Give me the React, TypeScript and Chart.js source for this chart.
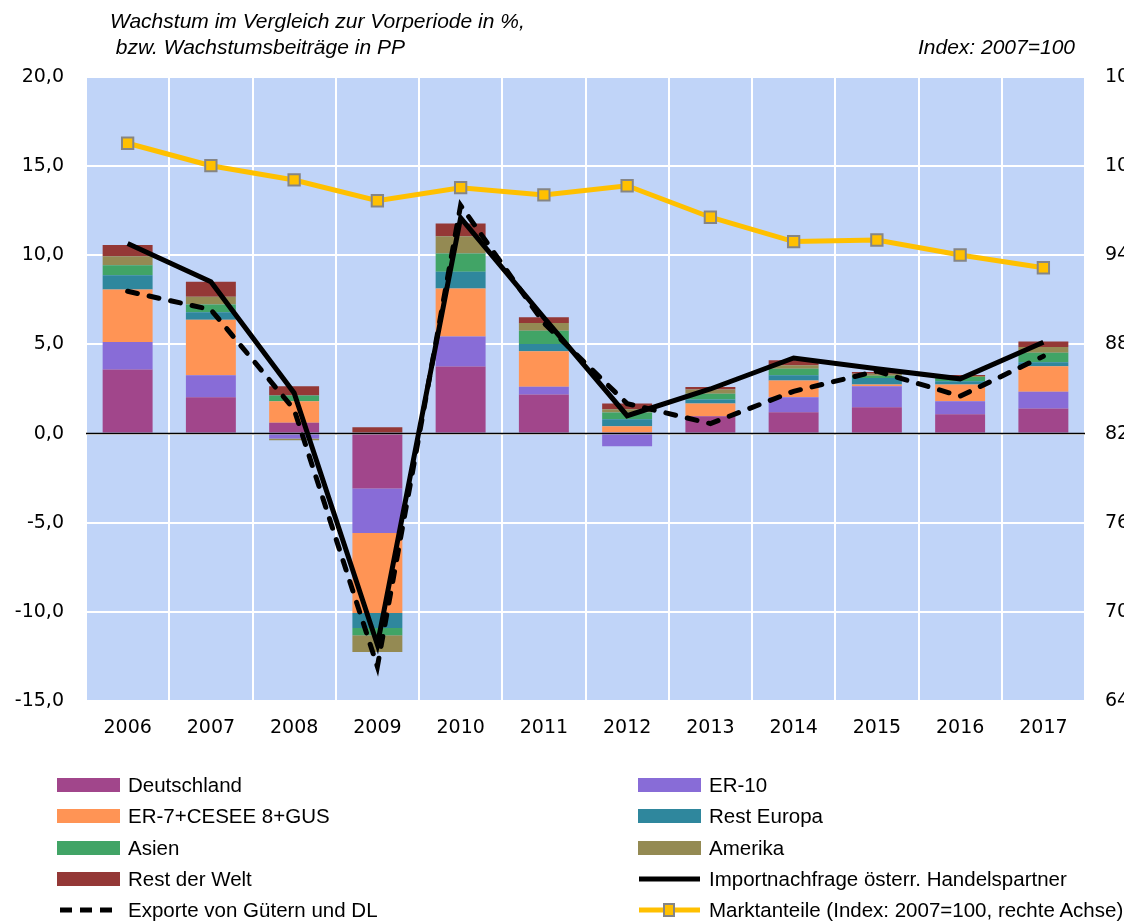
import React, { useEffect, useRef } from "react";
import { Chart, registerables } from "chart.js";
Chart.register(...registerables);

const years = ["2006", "2007", "2008", "2009", "2010", "2011", "2012", "2013", "2014", "2015", "2016", "2017"];

const deutschland = [3.59, 2.04, 0.6, -3.08, 3.76, 2.19, 0.08, 0.97, 1.2, 1.48, 1.08, 1.4];
const er10 = [1.55, 1.23, -0.28, -2.49, 1.68, 0.43, -0.71, 0, 0.84, 1.17, 0.73, 0.94];
const er7 = [2.94, 3.12, 1.21, -4.49, 2.7, 2.0, 0.33, 0.71, 0.93, 0.1, 0.94, 1.43];
const restEuropa = [0.8, 0.41, 0, -0.84, 0.93, 0.41, 0.39, 0.23, 0.3, 0.37, 0.18, 0.23];
const asien = [0.56, 0.44, 0.32, -0.41, 1.03, 0.74, 0.38, 0.33, 0.36, 0.13, 0.25, 0.53];
const amerika = [0.5, 0.43, -0.1, -0.94, 0.97, 0.43, 0.18, 0.23, 0.2, 0.1, 0.05, 0.33];
const restWelt = [0.64, 0.84, 0.52, 0.35, 0.71, 0.32, 0.32, 0.14, 0.28, 0.1, 0.05, 0.3];

const importnachfrage = [10.66, 8.51, 2.28, -11.84, 12.1, 6.5, 1.0, 2.5, 4.24, 3.64, 3.07, 5.12];
const exporte = [7.98, 6.95, 1.35, -13.07, 12.8, 6.2, 1.68, 0.56, 2.37, 3.5, 2.1, 4.34];
const marktanteile = [101.54, 100.03, 99.07, 97.67, 98.55, 98.06, 98.68, 96.56, 94.92, 95.03, 94.02, 93.16];

const leftMin = -15, leftMax = 20, leftStep = 5;
const rightMin = 64, rightMax = 106, rightStep = 6;

const barSeries = [
  { label: "Deutschland", data: deutschland, color: "#A1468B" },
  { label: "ER-10", data: er10, color: "#886CD7" },
  { label: "ER-7+CESEE 8+GUS", data: er7, color: "#FF9455" },
  { label: "Rest Europa", data: restEuropa, color: "#2F879D" },
  { label: "Asien", data: asien, color: "#41A466" },
  { label: "Amerika", data: amerika, color: "#948A53" },
  { label: "Rest der Welt", data: restWelt, color: "#943836" },
];

const lineImportLabel = "Importnachfrage österr. Handelspartner";
const lineExportLabel = "Exporte von Gütern und DL";
const lineMarktLabel = "Marktanteile (Index: 2007=100, rechte Achse)";
const yellow = "#FFC000";

const CANVAS_W = 1160;
const CANVAS_H = 921;

const bgPlugin = {
  id: "bgPlugin",
  beforeDraw(chart: any) {
    const { ctx, chartArea } = chart;
    ctx.save();
    ctx.fillStyle = "#C0D4F8";
    ctx.fillRect(chartArea.left, chartArea.top, chartArea.right - chartArea.left, chartArea.bottom - chartArea.top);
    ctx.restore();
  },
  afterDatasetsDraw(chart: any) {
    const { ctx, chartArea, scales } = chart;
    const y0 = scales.y.getPixelForValue(0);
    ctx.save();
    ctx.strokeStyle = "#000";
    ctx.lineWidth = 1.5;
    ctx.beginPath();
    ctx.moveTo(chartArea.left, y0);
    ctx.lineTo(chartArea.right, y0);
    ctx.stroke();
    ctx.restore();
  },
};

const tickFont = { family: "'DejaVu Sans', sans-serif", size: 19 };

function ChartCanvas() {
  const ref = useRef<HTMLCanvasElement | null>(null);
  useEffect(() => {
    if (!ref.current) return;
    const datasets: any[] = barSeries.map((s) => ({
      type: "bar",
      label: s.label,
      data: s.data,
      backgroundColor: s.color,
      borderWidth: 0,
      stack: "bars",
      yAxisID: "y",
      order: 3,
      barPercentage: 0.6,
      categoryPercentage: 1,
    }));
    datasets.push({
      type: "line",
      label: lineImportLabel,
      data: importnachfrage,
      borderColor: "#000",
      borderWidth: 5,
      pointRadius: 0,
      tension: 0,
      stack: "imp",
      yAxisID: "y",
      order: 1,
      borderJoinStyle: "miter",
    });
    datasets.push({
      type: "line",
      label: lineExportLabel,
      data: exporte,
      borderColor: "#000",
      borderWidth: 5,
      borderDash: [10, 12],
      borderCapStyle: "round",
      pointRadius: 0,
      tension: 0,
      stack: "exp",
      yAxisID: "y",
      order: 2,
    });
    datasets.push({
      type: "line",
      label: lineMarktLabel,
      data: marktanteile,
      borderColor: yellow,
      borderWidth: 5,
      pointStyle: "rect",
      pointRadius: 8,
      pointBackgroundColor: yellow,
      pointBorderColor: "#858585",
      pointBorderWidth: 2,
      tension: 0,
      yAxisID: "y1",
      order: 0,
    });

    const chart = new Chart(ref.current, {
      type: "bar",
      data: { labels: years, datasets },
      options: {
        responsive: false,
        animation: false,
        devicePixelRatio: 1,
        layout: { padding: { top: 77, left: 0, right: 0, bottom: 0 } },
        plugins: { legend: { display: false }, tooltip: { enabled: false } },
        scales: {
          x: {
            stacked: true,
            offset: true,
            grid: { color: "#FFFFFF", lineWidth: 2, drawTicks: false, offset: true },
            border: { display: false },
            ticks: { color: "#000", font: tickFont, padding: 16 },
            afterFit(scale: any) {
              scale.height = 220;
            },
          },
          y: {
            stacked: true,
            position: "left",
            min: leftMin,
            max: leftMax,
            grid: { color: "#FFFFFF", lineWidth: 2, drawTicks: false },
            border: { display: false },
            ticks: {
              stepSize: leftStep,
              color: "#000",
              font: tickFont,
              padding: 22,
              callback: (v: any) => Number(v).toFixed(1).replace(".", ","),
            },
            afterFit(scale: any) {
              scale.width = 86;
            },
          },
          y1: {
            stacked: false,
            position: "right",
            min: rightMin,
            max: rightMax,
            grid: { display: false, drawTicks: false },
            border: { display: false },
            ticks: { stepSize: rightStep, color: "#000", font: tickFont, padding: 20 },
            afterFit(scale: any) {
              scale.width = CANVAS_W - 1085;
            },
          },
        },
      } as any,
      plugins: [bgPlugin],
    });
    return () => chart.destroy();
  }, []);
  return <canvas ref={ref} width={CANVAS_W} height={CANVAS_H} style={{ position: "absolute", left: 0, top: 0, width: CANVAS_W, height: CANVAS_H }} />;
}

type LegendItem = { label: string; kind: "bar" | "solid" | "dash" | "marker"; color?: string };

const legendItems: LegendItem[] = [
  ...barSeries.map((s) => ({ label: s.label, kind: "bar" as const, color: s.color })),
  { label: lineImportLabel, kind: "solid" },
  { label: lineExportLabel, kind: "dash" },
  { label: lineMarktLabel, kind: "marker" },
];

const legendRowsY = [785, 816, 848, 879, 910];
const legendColX = [57, 638];

function Swatch({ item }: { item: LegendItem }) {
  if (item.kind === "bar") {
    return <div style={{ width: 63, height: 14, background: item.color }} />;
  }
  if (item.kind === "solid") {
    return (
      <svg width={63} height={16}>
        <line x1={1} y1={8} x2={62} y2={8} stroke="#000" strokeWidth={5} />
      </svg>
    );
  }
  if (item.kind === "dash") {
    return (
      <svg width={63} height={16}>
        <line x1={3} y1={8} x2={62} y2={8} stroke="#000" strokeWidth={5} strokeDasharray="12 8" />
      </svg>
    );
  }
  return (
    <svg width={63} height={18}>
      <line x1={1} y1={9} x2={62} y2={9} stroke={yellow} strokeWidth={5} />
      <rect x={26} y={3} width={10} height={12} fill={yellow} stroke="#858585" strokeWidth={2} />
    </svg>
  );
}

export default function App() {
  return (
    <div style={{ position: "absolute", left: 0, top: 0, width: 1124, height: 921, overflow: "hidden", background: "#fff" }}>
      <ChartCanvas />
      <div style={{ position: "absolute", left: 110, top: 8, font: "italic 21px 'Liberation Sans', Arial, sans-serif", lineHeight: "26px", color: "#000", whiteSpace: "pre" }}>
        {"Wachstum im Vergleich zur Vorperiode in %,\n bzw. Wachstumsbeiträge in PP"}
      </div>
      <div style={{ position: "absolute", right: 1124 - 1075, top: 34, font: "italic 21px 'Liberation Sans', Arial, sans-serif", lineHeight: "26px", color: "#000", whiteSpace: "nowrap" }}>
        Index: 2007=100
      </div>
      {legendItems.map((item, i) => {
        const row = Math.floor(i / 2);
        const col = i % 2;
        return (
          <div
            key={item.label}
            style={{
              position: "absolute",
              left: legendColX[col],
              top: legendRowsY[row] - 12,
              height: 24,
              display: "flex",
              alignItems: "center",
              whiteSpace: "nowrap",
              font: "20.5px 'Liberation Sans', Arial, sans-serif",
              color: "#000",
            }}
          >
            <Swatch item={item} />
            <span style={{ marginLeft: 8 }}>{item.label}</span>
          </div>
        );
      })}
    </div>
  );
}
